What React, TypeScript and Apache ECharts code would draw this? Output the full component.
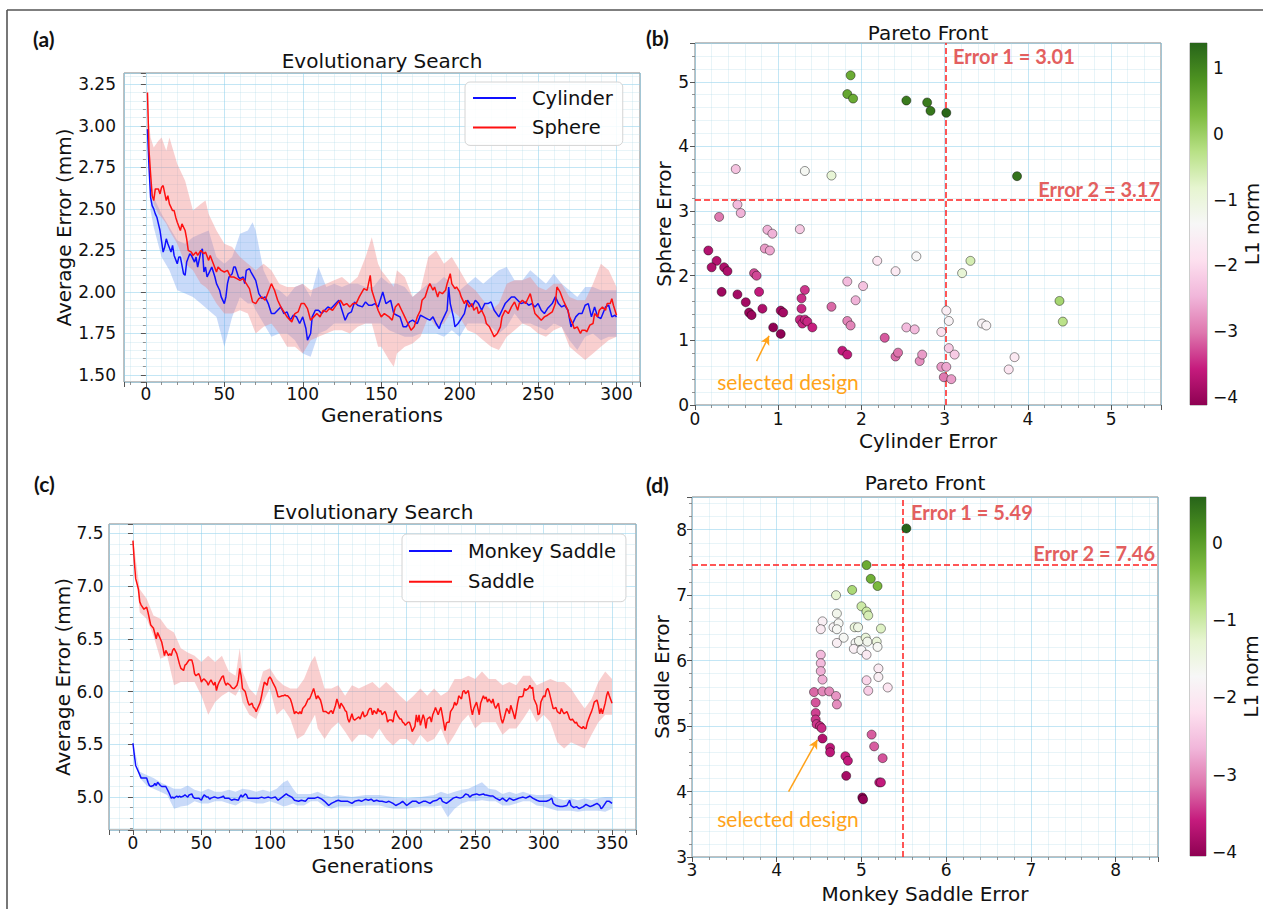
import React, { useEffect, useRef } from "react";
import * as echarts from "echarts";

const PIYG = ["#8e0152", "#c51b7d", "#de77ae", "#f1b6da", "#fde0ef", "#f7f7f7", "#e6f5d0", "#b8e186", "#7fbc41", "#4d9221", "#276419"];
const FONT = "DejaVu Sans";
const ANNOT = "Lato";
const MAJOR = "rgba(135,206,235,0.5)";
const MINOR = "rgba(173,216,230,0.28)";

// ---------- (a) Cylinder / Sphere : [generation, mean error] ----------
const cylinderMean: number[][] = [[1,2.98],[2,2.75],[3,2.57],[4,2.52],[5,2.50],[6,2.47],[7,2.45],[8,2.41],[9,2.37],[11,2.24],[12,2.27],[13,2.32],[14,2.29],[16,2.24],[17,2.28],[18,2.22],[20,2.17],[21,2.21],[22,2.21],[24,2.11],[25,2.10],[26,2.18],[28,2.23],[29,2.22],[31,2.18],[32,2.21],[33,2.15],[35,2.24],[36,2.26],[37,2.12],[38,2.15],[39,2.09],[41,2.13],[42,2.15],[44,2.09],[45,2.05],[47,2.01],[48,1.97],[50,1.93],[51,1.97],[52,2.05],[53,2.09],[55,2.11],[56,2.15],[57,2.15],[59,2.09],[60,2.08],[62,2.09],[63,2.05],[64,2.13],[66,2.14],[67,2.12],[70,2.07],[72,1.99],[74,1.96],[76,1.97],[78,1.93],[80,1.87],[82,1.87],[84,1.89],[86,1.91],[88,1.87],[90,1.88],[92,1.83],[94,1.86],[96,1.85],[98,1.81],[100,1.85],[102,1.78],[103,1.71],[105,1.75],[106,1.85],[108,1.89],[110,1.89],[112,1.87],[114,1.89],[116,1.91],[118,1.90],[121,1.93],[123,1.95],[125,1.89],[127,1.83],[129,1.87],[131,1.88],[133,1.94],[135,1.92],[138,1.91],[140,1.94],[142,1.92],[144,1.92],[146,1.93],[148,1.91],[150,1.97],[151,2.00],[153,1.93],[156,1.95],[158,1.87],[160,1.86],[162,1.85],[164,1.79],[166,1.79],[168,1.82],[170,1.83],[173,1.81],[175,1.86],[177,1.85],[179,1.84],[181,1.83],[183,1.85],[185,1.81],[187,1.78],[188,1.81],[190,1.85],[192,1.89],[193,2.03],[194,1.93],[196,1.85],[197,1.79],[199,1.81],[201,1.84],[203,1.87],[205,1.95],[208,1.91],[210,1.95],[212,1.93],[214,1.89],[216,1.93],[218,1.93],[220,1.94],[222,1.89],[225,1.85],[227,1.89],[229,1.93],[231,1.95],[233,1.97],[235,1.97],[237,1.95],[239,1.93],[242,1.94],[244,1.92],[246,1.93],[248,1.91],[250,1.93],[252,1.89],[254,1.87],[256,1.90],[259,1.93],[261,1.97],[263,1.93],[265,1.91],[267,1.92],[269,1.89],[271,1.79],[272,1.81],[274,1.85],[276,1.87],[278,1.87],[280,1.92],[282,1.93],[284,1.85],[286,1.91],[288,1.85],[290,1.84],[293,1.91],[295,1.92],[297,1.85],[299,1.86],[300,1.85]];

const sphereMean: number[][] = [[1,3.20],[2,2.85],[3,2.71],[4,2.58],[5,2.55],[6,2.62],[8,2.62],[9,2.59],[10,2.63],[11,2.64],[13,2.55],[14,2.58],[15,2.53],[17,2.49],[18,2.49],[19,2.45],[20,2.42],[22,2.37],[23,2.41],[25,2.37],[26,2.32],[27,2.25],[29,2.24],[30,2.22],[32,2.24],[33,2.22],[35,2.25],[37,2.23],[38,2.24],[40,2.19],[41,2.22],[43,2.17],[45,2.12],[46,2.15],[48,2.13],[50,2.12],[52,2.13],[54,2.09],[56,2.09],[58,2.08],[60,2.07],[62,2.08],[64,2.05],[66,2.02],[68,1.94],[70,1.93],[72,1.96],[74,1.97],[76,1.95],[78,2.00],[80,2.05],[82,2.01],[84,1.95],[86,1.91],[88,1.88],[90,1.85],[93,1.82],[95,1.87],[97,1.88],[99,1.93],[101,1.93],[103,1.90],[105,1.83],[107,1.85],[109,1.87],[111,1.85],[113,1.89],[115,1.88],[117,1.90],[119,1.89],[122,1.93],[124,1.95],[126,1.92],[128,1.93],[130,1.91],[132,1.93],[134,1.93],[136,1.97],[139,2.02],[141,2.01],[143,2.10],[144,2.01],[146,1.95],[148,1.89],[150,1.85],[152,1.87],[155,1.85],[157,1.83],[159,1.91],[161,1.93],[163,1.89],[165,1.85],[167,1.81],[169,1.77],[171,1.79],[173,1.85],[175,1.89],[176,1.95],[178,1.97],[180,2.03],[181,2.05],[183,2.01],[184,2.03],[186,1.97],[187,2.00],[189,1.99],[191,2.01],[192,2.05],[194,2.11],[195,2.05],[197,2.02],[198,2.03],[200,2.00],[201,1.97],[203,1.93],[204,1.95],[206,1.91],[208,1.93],[209,1.89],[211,1.91],[212,1.87],[214,1.89],[216,1.85],[217,1.81],[219,1.79],[221,1.75],[222,1.73],[224,1.75],[226,1.79],[227,1.85],[229,1.89],[231,1.87],[233,1.91],[235,1.94],[237,1.89],[238,1.93],[240,1.95],[242,1.93],[243,1.95],[245,1.99],[246,1.95],[248,1.87],[250,1.85],[252,1.83],[254,1.85],[256,1.86],[259,1.88],[261,1.93],[262,2.03],[264,2.00],[266,1.95],[267,1.93],[269,1.89],[270,1.85],[272,1.81],[273,1.78],[275,1.79],[277,1.75],[278,1.77],[280,1.77],[281,1.76],[283,1.80],[285,1.81],[286,1.87],[288,1.85],[289,1.89],[291,1.91],[293,1.89],[294,1.93],[296,1.93],[297,1.96],[298,1.92],[300,1.86]];

// [generation, lower, upper]
const cylinderBand: number[][] = [[1,2.98,2.98],[3,2.49,2.67],[5,2.39,2.57],[10,2.21,2.47],[15,2.13,2.39],[20,2.01,2.31],[25,1.99,2.29],[30,1.97,2.33],[35,1.93,2.35],[40,1.89,2.37],[45,1.85,2.21],[50,1.67,2.17],[55,1.85,2.21],[60,1.97,2.35],[65,1.93,2.37],[68,1.93,2.42],[70,1.89,2.37],[75,1.81,2.13],[80,1.73,2.03],[85,1.75,2.01],[90,1.75,1.97],[95,1.71,2.03],[100,1.63,2.05],[105,1.61,1.97],[110,1.75,2.15],[115,1.77,2.03],[120,1.81,2.05],[125,1.81,2.03],[130,1.81,2.05],[135,1.81,2.05],[140,1.81,2.03],[145,1.81,2.03],[150,1.81,2.09],[155,1.77,2.05],[160,1.75,2.05],[165,1.73,2.03],[170,1.73,1.97],[175,1.75,2.01],[180,1.75,2.05],[185,1.75,2.05],[190,1.73,2.09],[195,1.77,2.05],[200,1.73,2.01],[205,1.81,2.05],[210,1.81,2.09],[215,1.81,2.05],[220,1.79,2.09],[225,1.75,2.13],[230,1.79,2.15],[235,1.87,2.07],[240,1.81,2.07],[245,1.81,2.13],[250,1.79,2.09],[255,1.77,2.05],[260,1.81,2.11],[265,1.79,2.05],[270,1.71,2.01],[275,1.65,1.97],[280,1.73,2.03],[285,1.75,2.03],[290,1.71,2.01],[295,1.73,2.01],[300,1.73,2.01]];

const sphereBand: number[][] = [[1,3.20,3.23],[2,2.80,3.02],[3,2.69,2.93],[5,2.53,2.87],[8,2.47,2.91],[10,2.45,2.93],[13,2.41,2.85],[15,2.37,2.93],[20,2.29,2.77],[25,2.17,2.67],[30,2.13,2.49],[35,2.05,2.53],[38,2.03,2.55],[40,2.01,2.47],[45,1.93,2.37],[50,1.87,2.29],[55,1.87,2.27],[60,1.89,2.21],[65,1.87,2.17],[70,1.75,2.13],[75,1.79,2.17],[80,1.81,2.13],[85,1.75,2.05],[90,1.67,2.03],[95,1.67,2.03],[100,1.63,2.05],[105,1.71,2.01],[110,1.73,2.03],[115,1.75,2.05],[120,1.77,2.07],[125,1.77,2.09],[130,1.75,2.05],[135,1.79,2.09],[140,1.81,2.21],[144,1.81,2.33],[148,1.67,2.17],[150,1.67,2.13],[155,1.59,2.07],[158,1.55,2.03],[160,1.63,2.13],[165,1.67,2.09],[170,1.69,1.97],[175,1.73,2.01],[180,1.85,2.21],[185,1.79,2.25],[190,1.81,2.17],[195,1.89,2.21],[200,1.85,2.13],[205,1.77,2.05],[210,1.75,2.01],[215,1.71,1.95],[220,1.67,1.89],[225,1.65,1.93],[230,1.73,2.05],[235,1.77,2.07],[240,1.81,2.07],[245,1.79,2.09],[250,1.75,2.03],[255,1.73,2.01],[260,1.77,2.05],[265,1.79,2.05],[270,1.67,1.97],[275,1.63,1.95],[280,1.59,1.95],[285,1.63,2.05],[290,1.67,2.17],[295,1.71,2.13],[300,1.73,2.03]];

// ---------- (c) Monkey Saddle / Saddle ----------
const saddleMean: number[][] = [[0,7.43],[1,7.23],[2,7.07],[4,6.97],[5,6.85],[6,6.82],[7,6.80],[8,6.78],[10,6.80],[11,6.75],[12,6.69],[13,6.63],[15,6.60],[16,6.55],[17,6.50],[18,6.56],[19,6.53],[21,6.47],[22,6.41],[23,6.34],[24,6.39],[26,6.34],[27,6.36],[28,6.34],[29,6.39],[30,6.41],[32,6.36],[33,6.31],[34,6.26],[35,6.22],[37,6.20],[38,6.25],[39,6.26],[40,6.28],[41,6.30],[43,6.30],[44,6.25],[45,6.17],[46,6.15],[48,6.17],[49,6.14],[50,6.09],[51,6.11],[52,6.12],[54,6.09],[55,6.06],[56,6.09],[57,6.11],[59,6.06],[60,6.09],[61,6.01],[62,6.06],[63,6.09],[65,6.14],[66,6.15],[67,6.09],[68,6.06],[69,6.08],[71,6.06],[72,6.04],[73,6.03],[74,6.03],[76,6.06],[77,6.11],[78,6.22],[79,6.15],[80,6.03],[82,6.00],[83,5.95],[84,5.90],[85,5.87],[87,5.89],[88,5.85],[89,5.84],[90,5.81],[91,5.84],[93,5.90],[94,5.96],[95,6.03],[96,6.09],[98,6.06],[99,6.12],[100,6.14],[101,6.12],[102,6.09],[104,6.04],[105,6.00],[106,5.95],[107,5.95],[109,5.96],[110,5.96],[111,5.97],[112,5.96],[113,5.96],[115,5.93],[116,5.89],[117,5.84],[118,5.79],[119,5.81],[121,5.79],[122,5.81],[123,5.79],[124,5.84],[126,5.87],[127,5.90],[128,5.93],[129,5.93],[130,5.96],[132,6.03],[133,5.98],[134,5.93],[135,5.96],[137,5.92],[138,5.87],[139,5.81],[140,5.81],[141,5.81],[143,5.79],[144,5.81],[145,5.82],[146,5.79],[148,5.87],[149,5.93],[150,5.89],[151,5.84],[152,5.89],[154,5.85],[155,5.82],[156,5.81],[157,5.74],[158,5.71],[160,5.79],[161,5.74],[162,5.73],[163,5.74],[165,5.76],[166,5.74],[167,5.78],[168,5.81],[169,5.76],[171,5.78],[172,5.82],[173,5.84],[174,5.84],[175,5.78],[176,5.82],[178,5.79],[179,5.84],[180,5.81],[181,5.82],[182,5.78],[184,5.81],[185,5.78],[186,5.71],[187,5.73],[189,5.73],[190,5.71],[191,5.79],[192,5.82],[193,5.78],[195,5.74],[196,5.74],[197,5.71],[198,5.70],[199,5.68],[201,5.71],[202,5.71],[203,5.67],[204,5.62],[206,5.67],[207,5.78],[208,5.71],[209,5.78],[210,5.68],[212,5.78],[213,5.74],[214,5.65],[215,5.74],[217,5.76],[218,5.71],[219,5.78],[220,5.81],[221,5.85],[223,5.78],[224,5.82],[225,5.85],[226,5.78],[228,5.63],[229,5.70],[230,5.71],[231,5.71],[232,5.81],[234,5.85],[235,5.90],[236,5.87],[237,5.89],[238,5.96],[240,5.93],[241,6.00],[242,6.01],[243,5.98],[245,6.01],[246,5.93],[247,5.84],[248,5.78],[249,5.84],[251,5.90],[252,5.84],[253,5.78],[254,5.89],[256,5.96],[257,5.93],[258,5.95],[259,5.90],[260,5.93],[262,5.89],[263,5.93],[264,5.87],[265,5.84],[267,5.89],[268,5.81],[269,5.74],[270,5.70],[271,5.74],[273,5.84],[274,5.82],[275,5.79],[276,5.87],[278,5.79],[279,5.74],[280,5.81],[281,5.89],[282,5.95],[284,5.95],[285,5.96],[286,6.03],[287,6.01],[289,6.03],[290,6.06],[291,6.03],[292,6.04],[293,5.93],[295,5.87],[296,5.78],[297,5.79],[298,5.90],[300,5.96],[301,5.95],[302,6.01],[303,6.03],[304,6.00],[306,5.89],[307,5.84],[308,5.84],[309,5.85],[310,5.81],[312,5.79],[313,5.84],[314,5.81],[315,5.79],[317,5.81],[318,5.78],[319,5.74],[320,5.73],[321,5.74],[323,5.70],[324,5.71],[325,5.68],[326,5.67],[328,5.65],[329,5.67],[330,5.65],[331,5.65],[332,5.71],[334,5.78],[335,5.81],[336,5.85],[337,5.90],[339,5.92],[340,5.87],[341,5.79],[342,5.84],[343,5.79],[345,5.89],[346,5.96],[347,6.00],[348,5.96],[350,5.89]];

const monkeyMean: number[][] = [[0,5.51],[1,5.40],[2,5.30],[4,5.24],[5,5.21],[6,5.18],[7,5.18],[9,5.18],[10,5.18],[11,5.14],[12,5.11],[13,5.10],[15,5.11],[16,5.13],[17,5.11],[18,5.14],[20,5.11],[21,5.10],[22,5.10],[23,5.10],[24,5.10],[26,5.05],[27,5.02],[28,4.99],[29,5.00],[30,4.99],[32,5.01],[33,5.00],[34,5.01],[35,5.00],[37,5.01],[38,5.02],[39,5.01],[40,5.00],[41,5.02],[43,5.03],[44,5.00],[45,4.99],[48,4.99],[50,4.97],[51,5.00],[52,5.02],[54,5.00],[55,5.00],[56,4.98],[57,4.99],[59,5.00],[60,5.00],[62,4.99],[65,5.00],[66,5.01],[67,4.99],[70,4.99],[72,4.97],[74,4.98],[77,4.97],[78,5.00],[79,5.02],[80,5.00],[82,5.03],[83,5.02],[84,4.99],[87,4.99],[89,4.99],[92,4.99],[94,5.00],[96,4.99],[99,5.00],[101,4.99],[104,5.00],[106,4.97],[109,5.00],[111,5.02],[112,5.03],[113,5.02],[116,5.00],[118,4.97],[121,4.96],[123,4.97],[126,4.96],[128,4.99],[131,4.99],[133,4.99],[135,5.00],[138,4.98],[140,4.96],[143,4.92],[145,4.94],[148,4.96],[150,4.97],[152,4.96],[155,4.96],[157,4.96],[160,4.94],[162,4.96],[165,4.97],[167,4.96],[170,4.98],[172,4.97],[174,4.98],[176,4.96],[178,4.97],[180,4.96],[182,4.96],[185,4.95],[187,4.96],[190,4.94],[192,4.92],[195,4.94],[197,4.96],[200,4.92],[202,4.94],[204,4.96],[207,4.96],[209,4.94],[212,4.96],[214,4.96],[217,4.94],[219,4.96],[222,4.97],[224,4.99],[225,4.99],[226,4.96],[229,4.94],[231,4.96],[234,4.99],[236,5.00],[239,4.99],[241,5.00],[243,5.03],[245,5.02],[246,5.00],[248,5.02],[251,5.03],[253,5.02],[256,5.03],[257,5.02],[258,5.02],[261,5.01],[263,5.01],[265,4.99],[268,4.97],[270,4.99],[273,4.96],[275,4.99],[278,4.97],[280,4.98],[282,4.99],[285,5.00],[287,4.99],[290,5.01],[292,4.99],[295,4.97],[297,4.96],[300,4.96],[302,4.96],[304,4.97],[306,4.99],[307,4.94],[309,4.92],[312,4.91],[314,4.91],[317,4.92],[319,4.97],[320,4.92],[322,4.90],[324,4.91],[326,4.89],[329,4.91],[331,4.93],[334,4.91],[336,4.92],[339,4.94],[341,4.92],[342,4.89],[343,4.90],[346,4.96],[348,4.96],[350,4.94]];

const saddleBand: number[][] = [[0,7.41,7.45],[5,6.75,6.97],[10,6.69,6.88],[15,6.53,6.72],[20,6.31,6.69],[25,6.34,6.60],[30,6.06,6.56],[35,6.09,6.41],[40,6.09,6.37],[45,6.09,6.34],[50,5.96,6.28],[55,5.78,6.34],[60,5.90,6.28],[65,5.96,6.34],[70,6.00,6.19],[75,5.96,6.15],[78,6.03,6.41],[80,5.90,6.19],[85,5.78,6.03],[90,5.74,5.96],[95,5.90,6.19],[100,6.03,6.22],[105,5.78,6.12],[110,5.84,6.06],[115,5.74,6.03],[120,5.55,6.03],[125,5.59,6.12],[130,5.71,6.28],[133,5.78,6.34],[135,5.65,6.25],[140,5.55,6.03],[145,5.65,6.03],[150,5.71,6.06],[155,5.62,5.96],[160,5.52,6.06],[165,5.59,6.03],[170,5.59,6.06],[175,5.55,6.09],[180,5.65,6.03],[185,5.55,6.09],[190,5.49,6.03],[195,5.55,5.96],[200,5.55,5.90],[205,5.49,5.96],[210,5.59,6.03],[215,5.52,5.96],[220,5.55,6.03],[225,5.65,5.96],[230,5.49,6.00],[235,5.59,6.12],[240,5.71,6.12],[245,5.78,6.15],[250,5.65,6.12],[255,5.71,6.19],[260,5.71,6.12],[265,5.71,6.12],[270,5.59,6.06],[275,5.65,6.09],[280,5.65,6.06],[285,5.74,6.15],[290,5.84,6.15],[295,5.71,6.06],[300,5.78,6.09],[305,5.71,6.12],[310,5.52,6.09],[315,5.46,6.09],[320,5.52,6.03],[325,5.49,5.93],[330,5.46,5.84],[335,5.59,5.93],[340,5.71,6.09],[345,5.78,6.19],[350,5.78,6.12]];

const monkeyBand: number[][] = [[0,5.51,5.51],[5,5.18,5.24],[10,5.11,5.21],[15,5.08,5.18],[20,5.05,5.14],[25,5.02,5.11],[30,4.89,5.08],[35,4.91,5.08],[40,4.92,5.11],[45,4.96,5.07],[50,4.94,5.05],[55,4.94,5.08],[60,4.96,5.05],[65,4.96,5.05],[70,4.94,5.07],[75,4.92,5.05],[80,4.96,5.08],[85,4.96,5.07],[90,4.94,5.05],[95,4.94,5.07],[100,4.96,5.05],[105,4.94,5.08],[110,4.91,5.14],[113,4.92,5.16],[117,4.94,5.08],[120,4.92,5.03],[125,4.92,5.03],[130,4.96,5.03],[135,4.96,5.05],[140,4.91,5.02],[145,4.89,5.00],[150,4.91,5.02],[160,4.91,5.00],[170,4.92,5.02],[180,4.92,5.02],[190,4.89,5.00],[200,4.89,4.99],[210,4.91,5.00],[220,4.91,5.02],[225,4.92,5.05],[230,4.81,5.03],[235,4.89,5.05],[240,4.94,5.07],[245,4.96,5.08],[250,4.96,5.11],[255,4.97,5.14],[260,4.96,5.08],[265,4.96,5.07],[270,4.92,5.03],[275,4.92,5.05],[280,4.94,5.03],[285,4.96,5.05],[290,4.96,5.03],[295,4.92,5.02],[300,4.91,5.02],[305,4.89,5.03],[310,4.87,4.99],[315,4.87,4.97],[320,4.87,4.99],[325,4.86,4.97],[330,4.87,4.99],[335,4.87,4.97],[340,4.87,4.99],[345,4.86,5.00],[350,4.89,5.00]];

// ---------- (b) Pareto front : [cylinder error, sphere error, L1 norm] ----------
const paretoB: number[][] = [[1.87,5.10,0.5],[1.83,4.81,0.55],[1.90,4.74,0.5],[2.54,4.71,1.1],[2.79,4.68,1.1],[2.83,4.55,1.15],[3.02,4.52,1.35],[3.87,3.54,1.2],[0.49,3.65,-2.3],[1.32,3.62,-1.3],[1.64,3.55,-0.9],[0.51,3.10,-2.4],[0.55,2.97,-2.5],[0.29,2.91,-3.0],[0.87,2.71,-2.5],[0.93,2.65,-2.5],[1.26,2.72,-2.2],[0.16,2.39,-3.75],[0.84,2.42,-2.7],[0.90,2.39,-2.6],[0.26,2.23,-3.75],[0.20,2.13,-3.8],[0.35,2.13,-3.8],[0.39,2.07,-3.8],[0.71,2.04,-3.3],[0.74,2.00,-3.3],[0.32,1.75,-3.95],[0.51,1.71,-3.9],[0.61,1.59,-3.9],[0.77,1.75,-3.6],[0.65,1.43,-4.0],[0.68,1.39,-4.0],[0.81,1.49,-3.8],[0.94,1.20,-4.1],[1.03,1.10,-4.1],[1.03,1.46,-3.9],[1.06,1.43,-3.9],[1.32,1.78,-3.4],[1.28,1.65,-3.45],[1.28,1.49,-3.5],[1.26,1.32,-3.5],[1.29,1.26,-3.5],[1.32,1.32,-3.5],[1.35,1.29,-3.5],[1.41,1.20,-3.55],[1.64,1.52,-3.1],[1.83,1.91,-2.4],[1.93,1.62,-2.5],[2.02,1.84,-2.3],[1.83,1.30,-2.9],[1.87,1.23,-2.9],[1.77,0.84,-3.6],[1.83,0.78,-3.6],[2.19,2.23,-1.8],[2.41,2.07,-1.7],[2.66,2.30,-1.4],[2.28,1.04,-3.2],[2.41,0.75,-3.1],[2.44,0.81,-3.05],[2.54,1.20,-2.4],[2.64,1.17,-2.4],[2.70,0.68,-2.8],[2.73,0.78,-2.7],[2.96,1.13,-1.9],[2.96,0.59,-2.7],[3.02,0.59,-2.6],[2.99,0.43,-3.0],[3.08,0.40,-2.7],[3.02,1.46,-1.6],[3.05,1.30,-1.5],[3.05,0.88,-2.2],[3.12,0.78,-2.2],[3.21,2.04,-0.9],[3.31,2.23,-0.6],[3.45,1.26,-1.5],[3.50,1.23,-1.5],[3.84,0.74,-1.7],[3.77,0.55,-1.8],[4.38,1.61,-0.1],[4.42,1.29,-0.3]];

// ---------- (d) Pareto front : [monkey saddle error, saddle error, L1 norm] ----------
const paretoD: number[][] = [[5.53,8.02,0.59],[5.06,7.46,-0.15],[5.11,7.25,-0.2],[5.19,7.14,-0.3],[4.89,7.08,-0.7],[4.70,7.00,-1.3],[5.00,6.83,-1.0],[5.06,6.75,-1.0],[5.08,6.69,-1.1],[4.71,6.72,-1.6],[4.54,6.60,-1.9],[4.52,6.48,-2.0],[4.67,6.51,-1.8],[4.73,6.57,-1.7],[4.71,6.48,-1.7],[4.92,6.51,-1.4],[4.96,6.51,-1.5],[5.23,6.49,-1.2],[4.79,6.35,-1.7],[4.71,6.27,-1.9],[4.93,6.27,-1.7],[4.97,6.30,-1.6],[4.91,6.18,-1.9],[5.00,6.16,-1.75],[5.05,6.35,-1.4],[5.07,6.29,-1.6],[5.18,6.29,-1.4],[5.19,6.21,-1.7],[5.06,6.09,-2.0],[4.52,6.09,-2.6],[4.52,5.96,-2.6],[4.52,5.84,-2.7],[4.54,5.71,-2.7],[5.20,5.88,-2.0],[5.20,5.75,-1.9],[5.06,5.70,-2.3],[5.08,5.54,-2.4],[5.31,5.59,-2.1],[4.44,5.52,-3.2],[4.54,5.53,-3.0],[4.62,5.53,-3.0],[4.70,5.46,-2.9],[4.71,5.33,-2.95],[4.46,5.36,-3.3],[4.46,5.20,-3.4],[4.46,5.10,-3.45],[4.47,5.03,-3.45],[4.51,5.00,-3.5],[4.53,4.97,-3.5],[4.54,4.81,-3.75],[4.63,4.67,-3.65],[4.63,4.60,-3.65],[4.81,4.54,-3.55],[4.84,4.47,-3.6],[4.82,4.24,-3.85],[5.01,3.91,-4.05],[5.02,3.88,-4.0],[5.12,4.87,-3.25],[5.15,4.69,-3.25],[5.25,4.51,-3.3],[5.21,4.14,-3.6],[5.23,4.14,-3.6]];

const thresholdsB = { error1: 3.01, error2: 3.17 };
const thresholdsD = { error1: 5.49, error2: 7.46 };
const normRangeB = [-4.12, 1.38];
const normRangeD = [-4.05, 0.59];
const colorbarTicksB = [-4, -3, -2, -1, 0, 1];
const colorbarTicksD = [-4, -3, -2, -1, 0];
const arrowB = [[0.74, 0.68], [0.89, 1.07]];
const arrowD = [[4.14, 4.0], [4.48, 4.79]];

const minus = (v: number) => (v < 0 ? "\u2212" + Math.abs(v) : String(v));

function bandSeries(grid: number, pts: number[][], fill: string) {
  return {
    type: "custom",
    xAxisIndex: grid,
    yAxisIndex: grid,
    silent: true,
    z: 1,
    data: [[pts[0][0], pts[0][1]]],
    renderItem: (_p: any, api: any) => {
      const poly: number[][] = [];
      for (let i = 0; i < pts.length; i++) poly.push(api.coord([pts[i][0], pts[i][2]]));
      for (let i = pts.length - 1; i >= 0; i--) poly.push(api.coord([pts[i][0], pts[i][1]]));
      return { type: "polygon", shape: { points: poly }, style: { fill } };
    },
  };
}

function colorbarSeries(grid: number, range: number[]) {
  return {
    type: "custom",
    xAxisIndex: grid,
    yAxisIndex: grid,
    silent: true,
    data: [[0, range[0]]],
    renderItem: (_p: any, api: any) => {
      const a = api.coord([0, range[0]]);
      const b = api.coord([1, range[1]]);
      return {
        type: "rect",
        shape: { x: a[0], y: b[1], width: b[0] - a[0], height: a[1] - b[1] },
        style: {
          fill: new echarts.graphic.LinearGradient(0, 1, 0, 0, PIYG.map((c, i) => ({ offset: i / 10, color: c }))),
        },
      };
    },
  };
}

function valueAxis(o: any) {
  return {
    type: "value",
    gridIndex: o.grid,
    min: o.min,
    max: o.max,
    minInterval: o.step,
    maxInterval: o.step,
    name: o.name,
    nameLocation: "middle",
    nameGap: o.nameGap,
    nameTextStyle: { fontFamily: FONT, fontSize: 20, color: "#111" },
    axisLine: { show: false },
    axisTick: { show: true, inside: false, length: 5, lineStyle: { color: "#555", width: 1 } },
    minorTick: { show: true, splitNumber: 5, length: 3, lineStyle: { color: "#777", width: 0.8 } },
    splitLine: { show: true, lineStyle: { color: MAJOR, width: 1 } },
    minorSplitLine: { show: true, lineStyle: { color: MINOR, width: 1 } },
    axisLabel: {
      fontFamily: FONT,
      fontSize: 17,
      color: "#111",
      margin: o.margin,
      showMinLabel: !!o.showMin,
      showMaxLabel: false,
      formatter: o.fmt,
    },
  };
}

function colorbarAxes(grid: number, range: number[], ticks: number[]) {
  return {
    x: { type: "value", gridIndex: grid, min: 0, max: 1, show: false },
    y: {
      type: "value",
      gridIndex: grid,
      position: "right",
      min: range[0],
      max: range[1],
      name: "L1 norm",
      nameLocation: "middle",
      nameRotate: 90,
      nameGap: 33,
      nameTextStyle: { fontFamily: FONT, fontSize: 20, color: "#111" },
      axisLine: { show: false },
      splitLine: { show: false },
      axisTick: { show: true, length: 5, customValues: ticks, lineStyle: { color: "#444" } },
      axisLabel: { fontFamily: FONT, fontSize: 17, color: "#111", margin: 6, customValues: ticks, formatter: (v: number) => minus(v) },
    },
  };
}

function text(t: string, x: number, y: number, font: string, fill: string, align = "left", extra: any = {}) {
  return { type: "text", x, y, silent: true, z: 100, style: { text: t, font, fill, align, verticalAlign: "middle" }, ...extra };
}

function buildOption() {
  const gridStyle = { show: true, borderColor: "#808080", borderWidth: 1, backgroundColor: "transparent", outerBoundsMode: "none" };
  const cbStyle = { show: true, borderColor: "#9a9a9a", borderWidth: 1, backgroundColor: "transparent", outerBoundsMode: "none" };
  const grids = [
    { left: 124, top: 73, width: 516, height: 309, ...gridStyle },
    { left: 695, top: 43, width: 466, height: 362, ...gridStyle },
    { left: 109, top: 524, width: 527, height: 306, ...gridStyle },
    { left: 692, top: 497, width: 466, height: 360, ...gridStyle },
    { left: 1190, top: 43, width: 17, height: 362, ...cbStyle },
    { left: 1190, top: 497, width: 16, height: 359, ...cbStyle },
  ];
  const cbB = colorbarAxes(4, normRangeB, colorbarTicksB);
  const cbD = colorbarAxes(5, normRangeD, colorbarTicksD);
  const xAxis = [
    valueAxis({ grid: 0, min: -13.95, max: 314.95, step: 50, name: "Generations", nameGap: 23, margin: 3 }),
    valueAxis({ grid: 1, min: 0, max: 5.6, step: 1, name: "Cylinder Error", nameGap: 26, margin: 5, showMin: true }),
    valueAxis({ grid: 2, min: -17.5, max: 367.5, step: 50, name: "Generations", nameGap: 26, margin: 4, showMin: false }),
    valueAxis({ grid: 3, min: 3, max: 8.5, step: 1, name: "Monkey Saddle Error", nameGap: 27, margin: 4, showMin: true }),
    cbB.x,
    cbD.x,
  ];
  const yAxis = [
    valueAxis({ grid: 0, min: 1.458, max: 3.318, step: 0.25, name: "Average Error (mm)", nameGap: 50, margin: 8, fmt: (v: number) => v.toFixed(2) }),
    valueAxis({ grid: 1, min: 0, max: 5.6, step: 1, name: "Sphere Error", nameGap: 21, margin: 6, showMin: true }),
    valueAxis({ grid: 2, min: 4.688, max: 7.588, step: 0.5, name: "Average Error (mm)", nameGap: 35, margin: 5.5, fmt: (v: number) => v.toFixed(1) }),
    valueAxis({ grid: 3, min: 3, max: 8.5, step: 1, name: "Saddle Error", nameGap: 20, margin: 5, showMin: true }),
    cbB.y,
    cbD.y,
  ];

  const line = (name: string, grid: number, data: number[][], color: string, z: number) => ({
    name,
    type: "line",
    xAxisIndex: grid,
    yAxisIndex: grid,
    data,
    showSymbol: false,
    symbol: "none",
    z,
    lineStyle: { color, width: 1.5 },
    itemStyle: { color },
  });

  const markLines = (th: { error1: number; error2: number }, arrow: number[][]) => ({
    silent: true,
    symbol: ["none", "none"],
    label: { show: false },
    lineStyle: { color: "#ff1f1f", type: [6, 3], width: 1.5, opacity: 1 },
    data: [
      { xAxis: th.error1 },
      { yAxis: th.error2 },
      [
        { coord: arrow[0], symbol: "none", lineStyle: { color: "#ffa21a", type: "solid", width: 1.5 } },
        { coord: arrow[1], symbol: "arrow", symbolSize: [7, 9] },
      ],
    ],
  });

  const scatter = (name: string, grid: number, data: number[][], th: any, arrow: number[][]) => ({
    name,
    type: "scatter",
    xAxisIndex: grid,
    yAxisIndex: grid,
    data,
    symbolSize: 9,
    z: 5,
    itemStyle: { borderColor: "rgba(0,0,0,0.55)", borderWidth: 0.8, opacity: 1 },
    markLine: markLines(th, arrow),
  });

  const series: any[] = [
    bandSeries(0, cylinderBand, "rgba(100,149,237,0.35)"),
    bandSeries(0, sphereBand, "rgba(240,128,128,0.38)"),
    line("Cylinder", 0, cylinderMean, "#1010ff", 3),
    line("Sphere", 0, sphereMean, "#ff1010", 4),
    bandSeries(2, monkeyBand, "rgba(100,149,237,0.35)"),
    bandSeries(2, saddleBand, "rgba(240,128,128,0.38)"),
    line("Monkey Saddle", 2, monkeyMean, "#1010ff", 3),
    line("Saddle", 2, saddleMean, "#ff1010", 4),
    scatter("paretoB", 1, paretoB, thresholdsB, arrowB),
    scatter("paretoD", 3, paretoD, thresholdsD, arrowD),
    colorbarSeries(4, normRangeB),
    colorbarSeries(5, normRangeD),
  ];

  const legendCommon = {
    orient: "vertical",
    icon: "rect",
    itemWidth: 43,
    itemHeight: 2,
    backgroundColor: "rgba(255,255,255,0.85)",
    borderColor: "#d4d4d4",
    borderWidth: 1,
    borderRadius: 5,
    z: 50,
    selectedMode: false,
    textStyle: { fontFamily: FONT, fontSize: 19.5, color: "#111", lineHeight: 20, padding: [0, 0, 0, 11] },
  };

  const EF = `bold 20px ${ANNOT}`;
  const graphic = {
    elements: [
      { type: "line", silent: true, shape: { x1: 7, y1: 10, x2: 1263, y2: 10 }, style: { stroke: "#555", lineWidth: 1.6 } },
      { type: "line", silent: true, shape: { x1: 7, y1: 10, x2: 7, y2: 909 }, style: { stroke: "#555", lineWidth: 1.6 } },
      text("(a)", 33, 38, `bold 21px ${ANNOT}`, "#111"),
      text("(b)", 646, 37, `bold 21px ${ANNOT}`, "#111"),
      text("(c)", 34, 483, `bold 21px ${ANNOT}`, "#111"),
      text("(d)", 646, 484, `bold 21px ${ANNOT}`, "#111"),
      text("Evolutionary Search", 382, 61, `20px ${FONT}`, "#111", "center"),
      text("Pareto Front", 928, 33, `20px ${FONT}`, "#111", "center"),
      text("Evolutionary Search", 373, 512, `20px ${FONT}`, "#111", "center"),
      text("Pareto Front", 925, 483, `20px ${FONT}`, "#111", "center"),
      text("Error 1 = 3.01", 953, 56, EF, "#e35f5f"),
      text("Error 2 = 3.17", 1160, 189, EF, "#e35f5f", "right"),
      text("Error 1 = 5.49", 911, 512, EF, "#e35f5f"),
      text("Error 2 = 7.46", 1155, 553, EF, "#e35f5f", "right"),
      text("selected design", 788, 381, `21px ${ANNOT}`, "#ffa31a", "center"),
      text("selected design", 788, 818, `21px ${ANNOT}`, "#ffa31a", "center"),
    ],
  };

  return {
    animation: false,
    backgroundColor: "#ffffff",
    textStyle: { fontFamily: FONT },
    grid: grids,
    xAxis,
    yAxis,
    visualMap: [
      { type: "continuous", show: false, seriesIndex: 8, dimension: 2, min: normRangeB[0], max: normRangeB[1], inRange: { color: PIYG } },
      { type: "continuous", show: false, seriesIndex: 9, dimension: 2, min: normRangeD[0], max: normRangeD[1], inRange: { color: PIYG } },
    ],
    legend: [
      { ...legendCommon, left: 465, top: 82, padding: [6, 10, 8, 8], itemGap: 9.4, data: ["Cylinder", "Sphere"] },
      { ...legendCommon, left: 402, top: 534, padding: [7, 10, 10, 7], itemGap: 10.7, data: ["Monkey Saddle", "Saddle"] },
    ],
    graphic,
    series,
  };
}

export default function App() {
  const ref = useRef<HTMLDivElement>(null);
  useEffect(() => {
    if (!ref.current) return;
    const chart = echarts.init(ref.current, null, { renderer: "svg" });
    chart.setOption(buildOption() as any);
    return () => chart.dispose();
  }, []);
  return (
    <div
      ref={ref}
      style={{ position: "absolute", left: 0, top: 0, width: 1263, height: 909, background: "#fff" }}
    />
  );
}
